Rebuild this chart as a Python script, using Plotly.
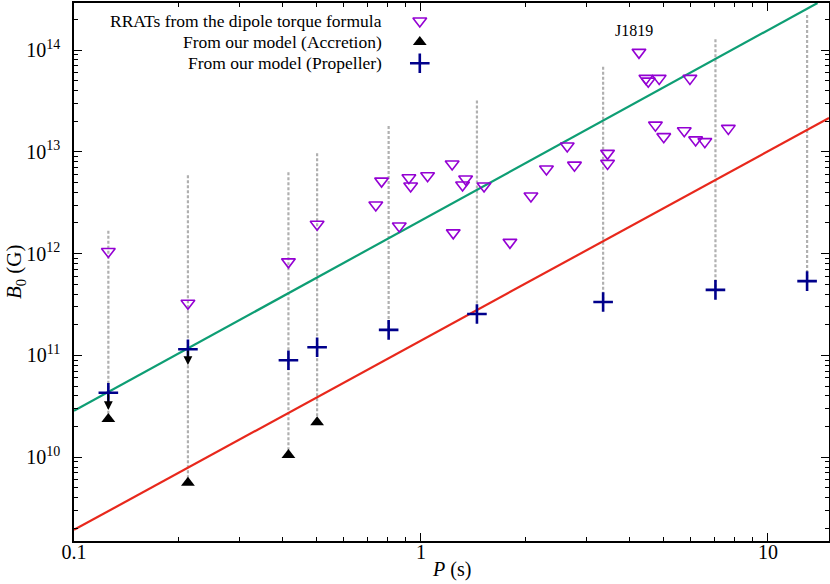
import numpy as np
import plotly.graph_objects as go

# RRATs from the dipole torque formula (P in s, B in G)
rrat_P = [0.1256, 0.213, 0.415, 0.502,
          0.741, 0.770, 0.866, 0.923, 0.934, 1.045, 1.23, 1.239, 1.318, 1.345,
          1.52, 1.805, 2.075, 2.30, 2.64, 2.77, 3.45, 3.45,
          4.25, 4.45, 4.52, 4.86, 4.74, 5.01, 5.74, 5.96, 6.19, 6.58, 7.69]
rrat_B = [1.05e12, 3.25e11, 8.3e11, 1.94e12,
          3.0e12, 5.16e12, 1.87e12, 5.57e12, 4.61e12, 5.82e12, 7.59e12, 1.60e12, 4.72e12, 5.41e12,
          4.61e12, 1.29e12, 3.68e12, 6.78e12, 1.14e13, 7.4e12, 9.66e12, 7.7e12,
          9.5e13, 5.27e13, 4.95e13, 5.27e13, 1.83e13, 1.41e13, 1.61e13, 5.27e13, 1.31e13, 1.26e13, 1.70e13]

# sources with model estimates
src_P = [0.1256, 0.213, 0.415, 0.502, 0.807, 1.45, 3.35, 7.06, 12.97]
src_B_upper = [1.68e12, 5.9e12, 6.3e12, 9.7e12, 1.79e13, 3.2e13, 6.85e13, 1.28e14, 2.21e14]
prop_B = [4.3e10, 1.15e11, 8.95e10, 1.2e11, 1.78e11, 2.55e11, 3.35e11, 4.4e11, 5.37e11]
acc_P = [0.1256, 0.213, 0.415, 0.502]
acc_B = [2.37e10, 5.6e9, 1.05e10, 2.2e10]

# downward arrows (from propeller value to tip)
arrow_P = [0.1256, 0.213]
arrow_B_from = [4.3e10, 1.15e11]
arrow_B_to = [2.9e10, 8.05e10]

# reference lines (endpoints)
green_P = [0.1, 13.9]
green_B = [2.85e10, 2.9e14]
red_P = [0.1, 15.0]
red_B = [1.93e9, 2.15e13]

legend_labels = ["RRATs from the dipole torque formula",
                 "From our model (Accretion)",
                 "From our model (Propeller)"]

serif = "Liberation Serif"
violet = "#9400D3"
navy = "#00008B"

fig = go.Figure()

# dashed vertical ranges
acc_map = dict(zip(acc_P, acc_B))
seg_x, seg_y = [], []
for p, top, bp in zip(src_P, src_B_upper, prop_B):
    low = min(bp, acc_map.get(p, bp))
    seg_x += [p, p, None]
    seg_y += [top, low, None]
fig.add_trace(go.Scatter(x=seg_x, y=seg_y, mode="lines",
                         line=dict(color="#b0b0b0", width=2.2, dash="3px,2px"),
                         showlegend=False, hoverinfo="skip"))

fig.add_trace(go.Scatter(x=green_P, y=green_B, mode="lines",
                         line=dict(color="#0e9e74", width=2.2), showlegend=False))
fig.add_trace(go.Scatter(x=red_P, y=red_B, mode="lines",
                         line=dict(color="#e8281c", width=2.2), showlegend=False))

fig.add_trace(go.Scatter(x=rrat_P, y=rrat_B, mode="markers", name=legend_labels[0],
                         marker=dict(symbol="triangle-down-open", size=12, color=violet,
                                     line=dict(color=violet, width=1.6)),
                         showlegend=False))
fig.add_trace(go.Scatter(x=acc_P, y=acc_B, mode="markers", name=legend_labels[1],
                         marker=dict(symbol="triangle-up", size=12, color="black"),
                         showlegend=False))
fig.add_trace(go.Scatter(x=src_P, y=prop_B, mode="markers", name=legend_labels[2],
                         marker=dict(symbol="cross-thin", size=14,
                                     line=dict(color=navy, width=2.6)),
                         showlegend=False))

for p, b0, b1 in zip(arrow_P, arrow_B_from, arrow_B_to):
    fig.add_annotation(x=np.log10(p), y=np.log10(b1), ax=np.log10(p), ay=np.log10(b0),
                       xref="x", yref="y", axref="x", ayref="y", text="",
                       showarrow=True, arrowhead=2, arrowsize=1.1, arrowwidth=1.6,
                       arrowcolor="black", standoff=0, startstandoff=0)

fig.add_annotation(x=np.log10(4.1), y=np.log10(1.55e14), text="J1819", showarrow=False,
                   xref="x", yref="y", font=dict(family=serif, size=16, color="black"))

# custom legend: text right-aligned, symbol on the right
leg_y = [0.9665, 0.9275, 0.888]
leg_sym = [dict(symbol="triangle-down-open", size=12, color=violet, line=dict(color=violet, width=1.6)),
           dict(symbol="triangle-up", size=12, color="black"),
           dict(symbol="cross-thin", size=14, line=dict(color=navy, width=2.6))]
for lab, yy, sym in zip(legend_labels, leg_y, leg_sym):
    fig.add_annotation(x=0.41, y=yy, xref="paper", yref="paper", text=lab,
                       showarrow=False, xanchor="right", yanchor="middle",
                       font=dict(family=serif, size=17.5, color="black"))
    fig.add_trace(go.Scatter(x=[0.458], y=[yy], mode="markers", marker=sym,
                             xaxis="x2", yaxis="y2", showlegend=False, hoverinfo="skip"))

# axis titles as annotations for exact placement
fig.add_annotation(x=0.5, y=-0.028, xref="paper", yref="paper", text="<i>P</i> (s)",
                   showarrow=False, xanchor="center", yanchor="top",
                   font=dict(family=serif, size=20, color="black"))
fig.add_annotation(x=-0.078, y=0.5, xref="paper", yref="paper",
                   text="<i>B</i><sub>0</sub> (G)", showarrow=False, textangle=-90,
                   xanchor="center", yanchor="middle",
                   font=dict(family=serif, size=21, color="black"))

tick_font = dict(family=serif, size=20, color="black")
fig.update_layout(
    width=830, height=584,
    margin=dict(l=74, r=1, t=3, b=43, autoexpand=False),
    plot_bgcolor="white", paper_bgcolor="white",
    showlegend=False,
    xaxis=dict(type="log", range=[-1, np.log10(15.0)], automargin=False,
               tickvals=[0.1, 1, 10], ticktext=["0.1", "1", "10"],
               ticks="inside", ticklen=8, tickwidth=1, tickcolor="black",
               minor=dict(ticks="inside", ticklen=4, tickwidth=1, tickcolor="black",
                          tickvals=[m * d for d in [0.1, 1, 10] for m in range(2, 10)]),
               showline=True, linecolor="black", linewidth=1.5, mirror="ticks",
               showgrid=False, zeroline=False, tickfont=tick_font, ticklabelstandoff=-8),
    yaxis=dict(type="log", range=[np.log10(1.5e9), np.log10(2.9e14)], automargin=False,
               tickvals=[1e10, 1e11, 1e12, 1e13, 1e14],
               ticktext=["10<sup>10</sup>", "10<sup>11</sup>", "10<sup>12</sup>",
                         "10<sup>13</sup>", "10<sup>14</sup>"],
               ticks="inside", ticklen=8, tickwidth=1, tickcolor="black",
               minor=dict(ticks="inside", ticklen=4, tickwidth=1, tickcolor="black",
                          tickvals=[m * d for d in [1e9, 1e10, 1e11, 1e12, 1e13, 1e14]
                                    for m in range(2, 10)]),
               showline=True, linecolor="black", linewidth=1.5, mirror="ticks",
               showgrid=False, zeroline=False, tickfont=tick_font, ticklabelstandoff=8),
    xaxis2=dict(overlaying="x", range=[0, 1], visible=False),
    yaxis2=dict(overlaying="y", range=[0, 1], visible=False),
)

fig.write_html("out.html", config={"displayModeBar": False},
               post_script="document.body.style.margin='0';document.body.style.overflow='hidden';")
